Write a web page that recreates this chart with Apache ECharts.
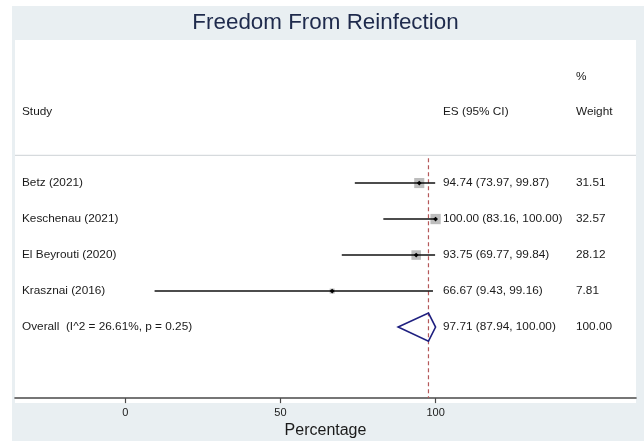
<!DOCTYPE html>
<html>
<head>
<meta charset="utf-8">
<script src="https://cdn.jsdelivr.net/npm/echarts@6/dist/echarts.min.js"></script>
<style>html,body{margin:0;padding:0;background:#fff}#c{width:644px;height:444px}</style>
</head>
<body>
<div id="c"></div>
<script>
// ---- data ----
const studies = ['Betz (2021)', 'Keschenau (2021)', 'El Beyrouti (2020)', 'Krasznai (2016)'];
const esValues = [94.74, 100.00, 93.75, 66.67];
const ciLower = [73.97, 83.16, 69.77, 9.43];
const ciUpper = [99.87, 100.00, 99.84, 99.16];
const weights = [31.51, 32.57, 28.12, 7.81];
const overallLabel = 'Overall  (I^2 = 26.61%, p = 0.25)';
const overallES = 97.71;
const overallLower = 87.94;
const overallUpper = 100.00;
const overallWeight = 100.00;
const tickValues = [0, 50, 100];
const titleText = 'Freedom From Reinfection';
const axisTitle = 'Percentage';
const headers = { study: 'Study', es: 'ES (95% CI)', pct: '%', weight: 'Weight' };

// ---- layout ----
const FONT = '"Liberation Sans", Arial, Helvetica, sans-serif';
const FS = 11.8;
const TXT = '#1a1a1a';
const COL_STUDY = 22, COL_ES = 443, COL_W = 576;
const fmt = v => v.toFixed(2);

const chart = echarts.init(document.getElementById('c'), null, { renderer: 'canvas' });

const rowData = studies.map((s, i) => [i, esValues[i], ciLower[i], ciUpper[i], weights[i]]);
const nRows = studies.length;

function txt(x, y, s, extra) {
  return Object.assign({
    type: 'text',
    style: { x: x, y: y, text: s, fill: TXT, font: FS + 'px ' + FONT, textAlign: 'left', textVerticalAlign: 'middle' }
  }, extra || {});
}

const option = {
  backgroundColor: '#ffffff',
  animation: false,
  graphic: [
    { type: 'rect', z: -10, shape: { x: 12, y: 6, width: 632, height: 435 }, style: { fill: '#e9eff2' } },
    { type: 'rect', z: -9, shape: { x: 15, y: 40, width: 621, height: 363 }, style: { fill: '#ffffff' } },
    { type: 'text', z: 5, style: { x: 325.5, y: 22.7, text: titleText, fill: '#1e2a4c', font: '22.4px ' + FONT, textAlign: 'center', textVerticalAlign: 'middle' } }
  ],
  grid: { left: 15, right: 8, top: 40, bottom: 41, containLabel: false },
  xAxis: {
    type: 'value',
    min: -35.56,
    max: 164.6,
    axisLine: { show: true, onZero: false, lineStyle: { color: '#4a4a4a', width: 1.6 } },
    axisTick: { show: true, length: 5, customValues: tickValues, lineStyle: { color: '#4a4a4a', width: 1.2 } },
    axisLabel: { customValues: tickValues, color: TXT, fontSize: 11, fontFamily: FONT, margin: 9 },
    splitLine: { show: false },
    name: axisTitle,
    nameLocation: 'middle',
    nameGap: 23,
    nameTextStyle: { fontSize: 16, color: TXT, fontFamily: FONT }
  },
  yAxis: {
    type: 'value',
    inverse: true,
    min: -3.973,
    max: 5.973,
    show: false
  },
  series: [
    {
      type: 'custom',
      data: [[0]],
      silent: true,
      renderItem: function (params, api) {
        const yHead = api.coord([0, -1.973])[1];
        const yPct = api.coord([0, -2.959])[1];
        const ySep = api.coord([0, -0.767])[1];
        const pTop = api.coord([overallES, -0.69]);
        const pBot = api.coord([overallES, 5.973]);
        return {
          type: 'group',
          children: [
            txt(COL_STUDY, yHead, headers.study),
            txt(COL_ES, yHead, headers.es),
            txt(COL_W, yPct, headers.pct),
            txt(COL_W, yHead, headers.weight),
            { type: 'line', shape: { x1: 15, y1: ySep, x2: 636, y2: ySep }, style: { stroke: '#d6dadd', lineWidth: 1.2 } },
            { type: 'line', shape: { x1: pTop[0], y1: pTop[1], x2: pBot[0], y2: pBot[1] }, style: { stroke: '#b5585a', lineWidth: 1.2, lineDash: [4, 3] } }
          ]
        };
      },
      z: 1
    },
    {
      type: 'custom',
      data: rowData,
      silent: true,
      renderItem: function (params, api) {
        const i = api.value(0);
        const es = api.value(1), lo = api.value(2), hi = api.value(3), w = api.value(4);
        const pE = api.coord([es, i]);
        const pL = api.coord([lo, i]);
        const pH = api.coord([hi, i]);
        const side = 1.8 * Math.sqrt(w);
        const y = pE[1];
        return {
          type: 'group',
          children: [
            { type: 'rect', shape: { x: pE[0] - side / 2, y: y - side / 2, width: side, height: side }, style: { fill: '#bdbdbd' } },
            { type: 'line', shape: { x1: pL[0], y1: y, x2: pH[0], y2: y }, style: { stroke: '#111', lineWidth: 1.4 } },
            { type: 'polygon', shape: { points: [[pE[0] - 2.4, y], [pE[0], y - 2.4], [pE[0] + 2.4, y], [pE[0], y + 2.4]] }, style: { fill: '#000' } },
            txt(COL_STUDY, y, studies[i]),
            txt(COL_ES, y, fmt(es) + ' (' + fmt(lo) + ', ' + fmt(hi) + ')'),
            txt(COL_W, y, fmt(w))
          ]
        };
      },
      z: 3
    },
    {
      type: 'custom',
      data: [[nRows, overallES, overallLower, overallUpper, overallWeight]],
      silent: true,
      renderItem: function (params, api) {
        const r = api.value(0);
        const es = api.value(1), lo = api.value(2), hi = api.value(3), w = api.value(4);
        const pE = api.coord([es, r]);
        const pL = api.coord([lo, r]);
        const pH = api.coord([hi, r]);
        const pT = api.coord([es, r - 0.39]);
        const pB = api.coord([es, r + 0.39]);
        return {
          type: 'group',
          children: [
            { type: 'polygon', shape: { points: [[pL[0], pL[1]], [pT[0], pT[1]], [pH[0], pH[1]], [pB[0], pB[1]]] }, style: { fill: 'none', stroke: '#1f2080', lineWidth: 1.6, lineJoin: 'miter' } },
            txt(COL_STUDY, pE[1], overallLabel),
            txt(COL_ES, pE[1], fmt(es) + ' (' + fmt(lo) + ', ' + fmt(hi) + ')'),
            txt(COL_W, pE[1], fmt(w))
          ]
        };
      },
      z: 3
    }
  ]
};
chart.setOption(option);
</script>
</body>
</html>
